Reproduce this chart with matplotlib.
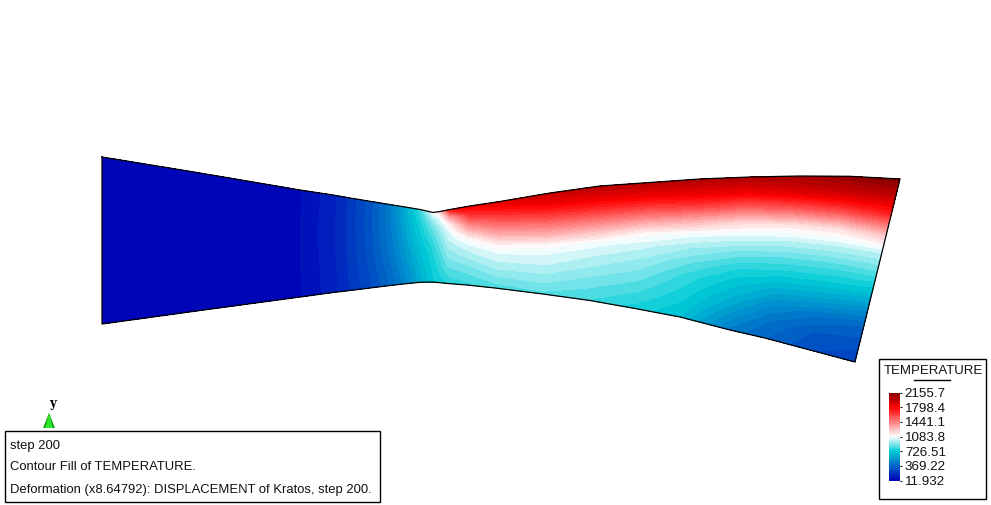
import numpy as np
from matplotlib import pyplot as plt
from matplotlib.colors import LinearSegmentedColormap
from matplotlib.patches import Rectangle, Polygon

plt.rcParams['font.family'] = ['Liberation Sans', 'DejaVu Sans']

# nozzle cross sections, in picture pixels
top_x = [102, 200, 300, 333, 350, 370, 390, 405, 420, 433, 440, 450, 470, 500, 550, 600, 650, 700, 750, 800, 850, 900]
top_y = [157, 173, 190, 195, 198, 201.3, 204.6, 207, 209.5, 212.5, 211.5, 209.5, 206, 201.5, 193, 186, 182.5, 179, 177, 176, 176.3, 179]
bot_x = [102, 200, 300, 333, 350, 370, 390, 405, 420, 431, 438, 448, 467, 495, 543, 590, 635, 680, 730, 765, 810, 855]
bot_y = [324, 310.5, 297, 292.5, 290.5, 288, 285.5, 283.8, 282.3, 282, 282.5, 283.5, 285, 288, 294, 300.5, 308.5, 317, 330, 338, 350, 362]

# fraction of the way across a section, top edge to bottom edge
rows = [0, .1, .2, .3, .4, .5, .6, .7, .8, .9, 1]

temperature = [
    [12, 12, 12, 12, 12, 12, 12, 12, 12, 12, 12],
    [20, 20, 21, 22, 22, 22, 22, 22, 21, 20, 20],
    [52, 53, 54, 55, 56, 56, 56, 55, 54, 53, 52],
    [130, 132, 134, 136, 136, 135, 134, 132, 130, 129, 128],
    [200, 203, 205, 206, 206, 205, 203, 200, 197, 193, 190],
    [300, 304, 306, 306, 304, 300, 295, 290, 283, 276, 270],
    [445, 445, 443, 440, 435, 428, 418, 407, 395, 383, 370],
    [610, 600, 590, 578, 568, 555, 540, 525, 505, 488, 470],
    [800, 770, 745, 725, 705, 690, 670, 655, 638, 622, 610],
    [1083, 950, 880, 840, 800, 770, 750, 735, 725, 715, 710],
    [1200, 1040, 970, 920, 880, 850, 820, 795, 775, 755, 735],
    [1750, 1350, 1120, 1040, 1000, 960, 925, 890, 855, 815, 770],
    [1820, 1670, 1487, 1303, 1120, 1030, 980, 930, 880, 840, 800],
    [1880, 1737, 1585, 1433, 1280, 1120, 1040, 990, 940, 885, 835],
    [1950, 1835, 1670, 1490, 1320, 1125, 1045, 1000, 950, 900, 845],
    [1990, 1855, 1672, 1462, 1251, 1060, 1000, 950, 900, 855, 810],
    [2000, 1845, 1620, 1365, 1110, 1010, 950, 900, 850, 800, 750],
    [2010, 1860, 1620, 1306, 1060, 950, 870, 800, 760, 720, 680],
    [2030, 1830, 1525, 1185, 1010, 880, 770, 690, 620, 530, 440],
    [2050, 1880, 1547, 1160, 990, 860, 745, 620, 500, 410, 370],
    [2100, 1920, 1590, 1170, 990, 850, 730, 590, 420, 320, 285],
    [2155, 1950, 1675, 1265, 1000, 860, 715, 540, 370, 300, 230],
]

tick_values = [11.932, 369.22, 726.51, 1083.8, 1441.1, 1798.4, 2155.7]
tick_labels = ['11.932', '369.22', '726.51', '1083.8', '1441.1', '1798.4', '2155.7']

info_lines = ['step 200', 'Contour Fill of TEMPERATURE.',
              'Deformation (x8.64792): DISPLACEMENT of Kratos, step 200.']

top_x, top_y = np.array(top_x), np.array(top_y)
bot_x, bot_y = np.array(bot_x), np.array(bot_y)
eta = np.array(rows)[None, :]
X = top_x[:, None] + eta * (bot_x - top_x)[:, None]
Y = top_y[:, None] + eta * (bot_y - top_y)[:, None]
T = np.array(temperature)

cmap = LinearSegmentedColormap.from_list('temp', [
    (0.0, (0, 0, 0.72)),
    (1 / 3, (0, 0.8, 0.84)),
    (0.5, (1, 1, 1)),
    (5 / 6, (1, 0, 0)),
    (1.0, (0.5, 0, 0)),
])
levels = np.linspace(11.932, 2155.7, 49)

fig = plt.figure(figsize=(9.91, 5.05), dpi=100)
ax = fig.add_axes([0, 0, 1, 1])
ax.set_xlim(0, 991)
ax.set_ylim(505, 0)
ax.axis('off')

cs = ax.contourf(X, Y, T, levels=levels, cmap=cmap, vmin=levels[0], vmax=levels[-1])

# outline
out_x = list(top_x) + list(bot_x[::-1]) + [top_x[0]]
out_y = list(top_y) + list(bot_y[::-1]) + [top_y[0]]
ax.plot(out_x, out_y, color='black', lw=0.9)

# y axis glyph
ax.add_patch(Polygon([(49, 413), (43, 428), (55, 428)], color='#12a812', lw=0))
ax.add_patch(Polygon([(49, 413), (45.5, 428), (52.5, 428)], color='#2ce82c', lw=0))
ax.text(52.5, 403, 'y', family='DejaVu Serif', weight='bold', fontsize=8.5, ha='center', va='center')

# info box
ax.add_patch(Rectangle((4.5, 430.5), 375, 71, fc='white', ec='black', lw=1))
for text_y, line in zip([446, 467.5, 490], info_lines):
    ax.text(10, text_y, line, fontsize=9.35, va='center', ha='left', color='#111111')

# legend box
ax.add_patch(Rectangle((878.5, 358.5), 107, 140, fc='white', ec='black', lw=1))
ax.text(933, 371, 'TEMPERATURE', fontsize=9.5, ha='center', va='center', color='#111111')
ax.plot([914, 950], [380, 380], color='black', lw=1)

cax = fig.add_axes([889 / 991, 1 - 480.5 / 505, 11 / 991, 88 / 505])
cb = fig.colorbar(cs, cax=cax, drawedges=False)
cb.outline.set_visible(False)
cb.set_ticks(tick_values)
cb.set_ticklabels(tick_labels)
cb.ax.tick_params(length=1.5, width=0.8, pad=2, labelsize=9.6, colors='#111111')
cb.ax.minorticks_off()

plt.savefig('out.png', dpi=100, facecolor='white')
